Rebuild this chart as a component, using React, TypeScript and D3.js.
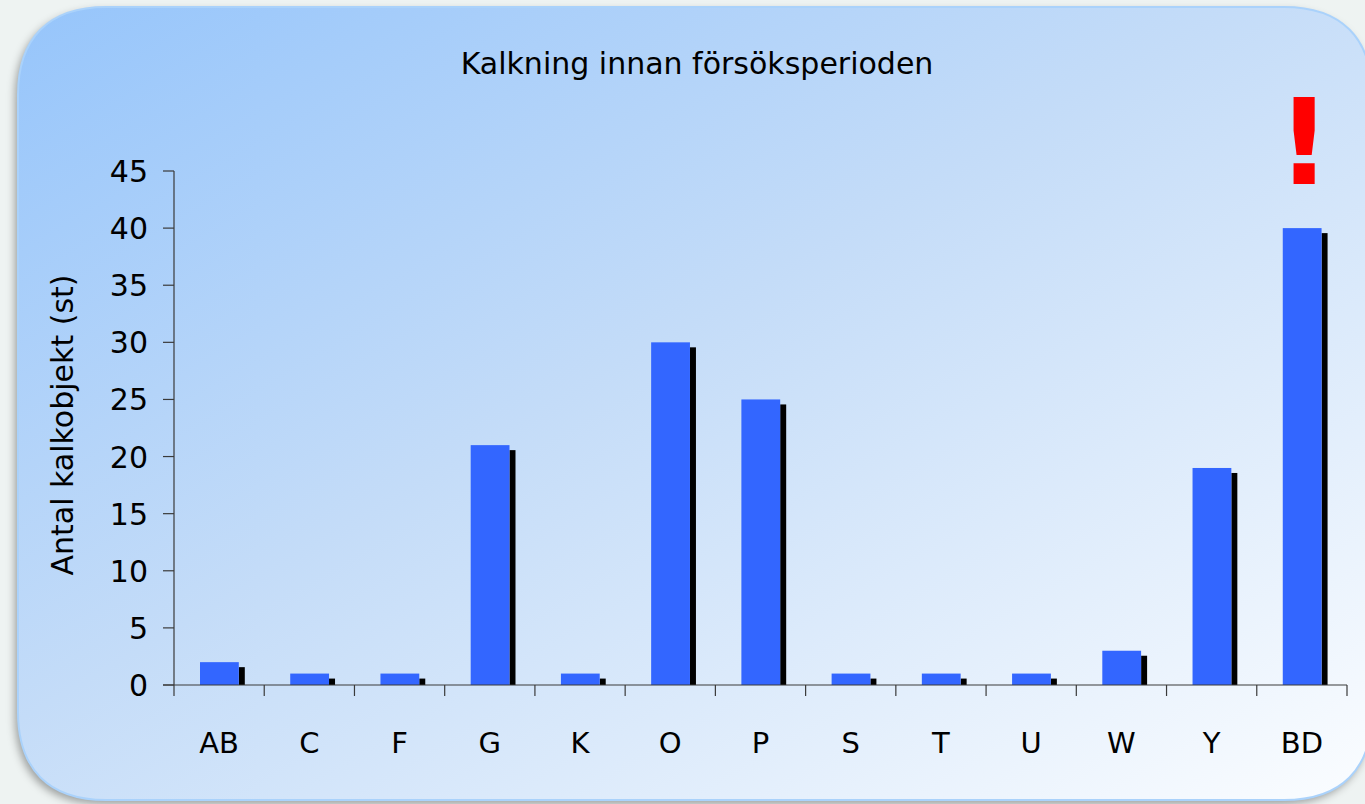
import React from "react";
import * as d3 from "d3";

const categories = ["AB", "C", "F", "G", "K", "O", "P", "S", "T", "U", "W", "Y", "BD"];
const values = [2, 1, 1, 21, 1, 30, 25, 1, 1, 1, 3, 19, 40];
const yTicks = [0, 5, 10, 15, 20, 25, 30, 35, 40, 45];
const title = "Kalkning innan försöksperioden";
const yTitle = "Antal kalkobjekt (st)";

const W = 1365;
const H = 804;
const FONT = "'Comic Sans MS', 'DejaVu Sans', sans-serif";

export default function App() {
  const x0 = 174, x1 = 1347;
  const y0 = 685, yTop = 171;
  const x = d3.scaleBand<string>().domain(categories).range([x0, x1]).paddingInner(0).paddingOuter(0);
  const y = d3.scaleLinear().domain([0, 45]).range([y0, yTop]);
  const bw = x.bandwidth();
  const barW = bw * 0.43;
  const shW = 6;
  const barOff = 26;

  const panelPath = (() => {
    const l = 18, t = 7, r = 1372, b = 800, rad = 88;
    return `M${l + rad},${t} H${r - rad} C${r - rad * 0.35},${t} ${r},${t + rad * 0.35} ${r},${t + rad} V${b - rad} C${r},${b - rad * 0.35} ${r - rad * 0.35},${b} ${r - rad},${b} H${l + rad} C${l + rad * 0.35},${b} ${l},${b - rad * 0.35} ${l},${b - rad} V${t + rad} C${l},${t + rad * 0.35} ${l + rad * 0.35},${t} ${l + rad},${t} Z`;
  })();

  return (
    <svg width={W} height={H} style={{ position: "absolute", left: 0, top: 0, display: "block" }}>
      <defs>
        <linearGradient id="bg" x1="0" y1="0" x2="1" y2="1">
          <stop offset="0" stopColor="#96c5fb" />
          <stop offset="0.45" stopColor="#c4dcf8" />
          <stop offset="1" stopColor="#fbfdff" />
        </linearGradient>
        <filter id="sh" x="-5%" y="-5%" width="110%" height="115%">
          <feDropShadow dx="-3" dy="4" stdDeviation="4" floodColor="#000" floodOpacity="0.35" />
        </filter>
      </defs>
      <rect x={0} y={0} width={W} height={H} fill="#eef3f2" />
      <path d={panelPath} fill="url(#bg)" filter="url(#sh)" />
      <path d={panelPath} fill="none" stroke="#aad2fb" strokeWidth={2} />

      <text x={697} y={74} textAnchor="middle" fontFamily={FONT} fontSize={30} fill="#000">{title}</text>

      <text
        transform={`translate(73,${(y0 + yTop) / 2 - 3}) rotate(-90)`}
        textAnchor="middle"
        fontFamily={FONT}
        fontSize={30}
        fill="#000"
      >{yTitle}</text>

      {/* bars */}
      {categories.map((c, i) => {
        const v = values[i];
        const bx = (x(c) as number) + barOff;
        return (
          <g key={c}>
            <rect x={bx + barW} y={y(v) + 5} width={shW} height={y0 - y(v) - 5} fill="#000" />
            <rect x={bx} y={y(v)} width={barW} height={y0 - y(v)} fill="#3366ff" />
          </g>
        );
      })}

      {/* y axis */}
      <line x1={x0} x2={x0} y1={yTop} y2={y0 + 11} stroke="#3a3a3a" strokeWidth={1.2} />
      {yTicks.map((t) => (
        <g key={t}>
          <line x1={x0 - 11} x2={x0} y1={y(t)} y2={y(t)} stroke="#3a3a3a" strokeWidth={1.2} />
          <text x={148} y={y(t) + 11} textAnchor="end" fontFamily={FONT} fontSize={30} fill="#000">{t}</text>
        </g>
      ))}

      {/* x axis */}
      <line x1={x0 - 11} x2={x1} y1={y0} y2={y0} stroke="#3a3a3a" strokeWidth={1.2} />
      {categories.map((c) => (
        <line key={"t" + c} x1={(x(c) as number) + bw} x2={(x(c) as number) + bw} y1={y0} y2={y0 + 11} stroke="#3a3a3a" strokeWidth={1.2} />
      ))}
      {categories.map((c) => (
        <text key={"l" + c} x={(x(c) as number) + bw / 2} y={753} textAnchor="middle" fontFamily={FONT} fontSize={29} fill="#000">{c}</text>
      ))}

      <text x={1304} y={184} textAnchor="middle" fontFamily="'DejaVu Sans', sans-serif" fontWeight="bold" fontSize={120} fill="#ff0000">!</text>
    </svg>
  );
}
